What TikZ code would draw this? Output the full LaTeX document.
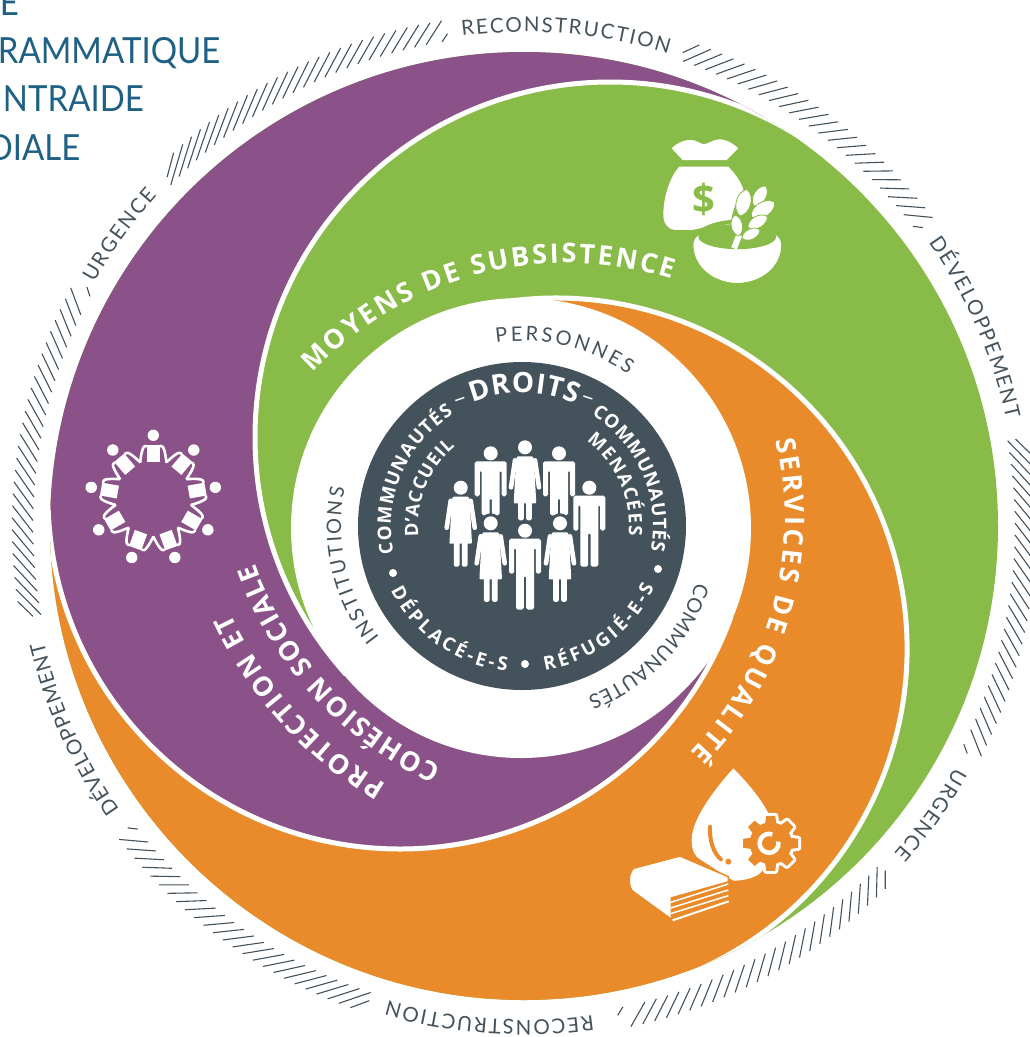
\documentclass[tikz,border=0pt]{standalone}
\usepackage{fontspec}
\setmainfont{Lato}
\newfontfamily\whitefam{Open Sans}
\newfontfamily\headfam[FakeStretch=0.915]{Lato}
\usetikzlibrary{calc,decorations.text}
\definecolor{cpurple}{HTML}{8A5288}
\definecolor{cgreen}{HTML}{88BB48}
\definecolor{corange}{HTML}{EA8B2B}
\definecolor{cink}{HTML}{44525B}
\definecolor{cblue}{HTML}{1F6184}
\newcommand\arctext[7]{\path[decorate,decoration={text along path,text align={fit to path},text={|#6|#7}}] (#1,-#2) ++(#4:#3) arc[start angle=#4,end angle=#5,radius=#3pt];}
\newcommand\ringfont{\fontsize{20.5}{20.5}\selectfont\color{cink}}
\newcommand\innerfont{\fontsize{20}{20}\selectfont\color{cink}}
\newcommand\mainfont{\whitefam\fontsize{27}{27}\selectfont\bfseries\color{white}}
\newcommand\diskfont{\whitefam\fontsize{18.8}{18.8}\selectfont\bfseries\color{white}}
\newcommand\smalldiskfont{\whitefam\fontsize{18.5}{18.5}\selectfont\bfseries\color{white}}
\newcommand\droitsfont{\whitefam\fontsize{28}{28}\selectfont\bfseries\color{white}}
\newcommand\manfig[3]{\begin{scope}[shift={(#1,-#2)},y=-1pt]
\fill[cink] (0,0) circle[radius=10pt];
\fill[white] (0,0) circle[radius=7pt];
\fill[white,rounded corners=1.8pt] (-16,43) -- (-16,8) -- (16,8) -- (16,43) -- (10.9,43) -- (10.9,17) -- (9,17) -- (9,#3) -- (1.2,#3) -- (1.2,45) -- (-1.2,45) -- (-1.2,#3) -- (-9,#3) -- (-9,17) -- (-10.9,17) -- (-10.9,43) -- cycle;
\end{scope}}
\newcommand\womanfig[3]{\begin{scope}[shift={(#1,-#2)},y=-1pt]
\fill[cink] (0,0) circle[radius=10pt];
\fill[white] (0,0) circle[radius=7pt];
\fill[white,rounded corners=1pt] (-8,9) -- (8,9) -- (9,14) -- (11.3,56) -- (-11.3,56) -- (-9,14) -- cycle;
\draw[white,line width=4.6pt,line cap=round] (-10,13) -- (-14,40) (10,13) -- (14,40);
\fill[white,rounded corners=1.5pt] (-6.8,54) rectangle (-1.2,#3) (1.2,54) rectangle (6.8,#3);
\end{scope}}
\newcommand\leaf[4]{\filldraw[fill=white,draw=cgreen,line width=.8pt] (#1,#2) to[bend left=65] (#3,#4) to[bend left=65] (#1,#2);}
\begin{document}
\begin{tikzpicture}[x=1pt,y=1pt]
\useasboundingbox (0,0) rectangle (1030,-1037);
\clip (0,0) rectangle (1030,-1037);
\tikzset{
 tick/.style={cink,line width=1.1pt},
 bluetext/.style={cblue,anchor=base east,inner sep=0pt,font=\headfam\fontsize{36}{36}\selectfont},
 dashtext/.style={white,inner sep=0pt,font=\fontsize{24}{24}\selectfont},
 whiteedge/.style={white,line width=5pt}
}
% heading fragments
\node[bluetext] (headA) at (19,-15.5) {E};
\node[bluetext] (headB) at (220.5,-63) {RAMMATIQUE};
\node[bluetext] (headC) at (144,-111.5) {NTRAIDE};
\node[bluetext] (headD) at (80.5,-160) {DIALE};
% hatch ring
\coordinate (O) at (524,-526);
\foreach \s/\n/\e/\ds/\de in {136/134.62/101/4.2/2.2, 71.1/69.72/39/2.5/2.3, 10/8.62/-25/3.3/2.2, -44/-45.38/-77/2.5/2.2, 251.8/250.42/219.5/3/2.3, 190.4/189.02/153.5/3.3/2.2}{
  \foreach \a in {\s,\n,...,\e}{
    \pgfmathsetmacro\dd{\ds+(\de-\ds)*(\s-\a)/(\s-\e)}
    \draw[tick] ($(O)+(\a:491)$) -- ($(O)+(\a-\dd:512)$);
  }
  \coordinate (pa) at ($(O)+(\s+1.38:491)$);
  \coordinate (qa) at ($(O)+(\s+1.38-\ds:512)$);
  \draw[tick] ($(pa)!.4!(qa)$) -- (qa);
  \coordinate (pb) at ($(O)+(\e-1.38:491)$);
  \coordinate (qb) at ($(O)+(\e-1.38-\de:512)$);
  \draw[tick] (pb) -- ($(pb)!.35!(qb)$);
}
% ring labels
\arctext{524}{526}{494}{97.2}{73}{\ringfont}{RECONSTRUCTION}
\arctext{524}{526}{494}{35}{12.5}{\ringfont}{DÉVELOPPEMENT}
\arctext{524}{526}{494}{-29.3}{-41.5}{\ringfont}{URGENCE}
\arctext{524}{526}{494}{-82}{-106}{\ringfont}{RECONSTRUCTION}
\arctext{524}{526}{494}{215}{193.6}{\ringfont}{DÉVELOPPEMENT}
\arctext{524}{526}{494}{150.5}{138}{\ringfont}{URGENCE}
% spiral
\begin{scope}
\clip (524,-526) circle[radius=474pt];
\fill[cgreen] (524,-526) circle[radius=480pt];
\fill[corange] (556,-649) ++(-70:351) arc[start angle=-70,end angle=97,radius=351pt] -- (400,-650) -- (300,-650) -- (150,-500) -- (-100,-500) -- (-100,-1200) -- (676,-1200) -- cycle;
\fill[cpurple] (610,-437) ++(222:355) arc[start angle=222,end angle=58,radius=355pt] -- (900,100) -- (-100,100) -- (-100,-497) -- (48,-497) arc[start angle=180,end angle=340,radius=352pt] -- cycle;
\draw[whiteedge] (610,-437) ++(222:355) arc[start angle=222,end angle=58,radius=355pt];
\draw[whiteedge] (556,-649) ++(-70:351) arc[start angle=-70,end angle=97,radius=351pt];
\draw[whiteedge] (48,-497) arc[start angle=180,end angle=340,radius=352pt];
\end{scope}
\fill[white] (521,-528) circle[radius=230pt];
\fill[cink] (522,-526) circle[radius=164pt];
% curved titles
\arctext{567}{612}{349}{136.7}{72.5}{\mainfont}{MOYENS DE SUBSISTENCE}
\arctext{449}{518}{336}{13.4}{-44.2}{\mainfont}{SERVICES DE QUALITÉ}
\arctext{588}{444}{396}{239.4}{205.4}{\mainfont}{PROTECTION ET}
\arctext{588}{444}{354}{245.5}{199.7}{\mainfont}{COHÉSION SOCIALE}
% inner ring labels
\arctext{522}{526}{185}{98}{55}{\innerfont}{PERSONNES}
\arctext{522}{526}{183}{-18}{-69}{\innerfont}{COMMUNAUTÉS}
\arctext{522}{526}{181}{218}{168}{\innerfont}{INSTITUTIONS}
% disc labels
\arctext{522}{526}{131}{192}{121.5}{\diskfont}{COMMUNAUTÉS}
\arctext{522}{526}{133}{112}{66}{\droitsfont}{DROITS}
\arctext{522}{526}{131}{58}{-11}{\diskfont}{COMMUNAUTÉS}
\arctext{522}{526}{104}{186}{130}{\smalldiskfont}{D’ACCUEIL}
\arctext{522}{526}{107}{53}{-5}{\smalldiskfont}{MENACÉES}
\arctext{522}{526}{146}{206}{264}{\diskfont}{DÉPLACÉ-E-S}
\arctext{522}{526}{146}{279}{335}{\diskfont}{RÉFUGIÉ-E-S}
\node[dashtext,rotate=19] (dashL) at (461,-403) {–};
\node[dashtext,rotate=-18] (dashR) at (587,-401) {–};
\fill[white] (393,-573) circle[radius=4pt] (525,-664) circle[radius=4pt] (658,-569) circle[radius=4pt];
% people
\manfig{490.7}{453.3}{62}
\womanfig{525}{447.3}{73}
\manfig{559}{453.3}{62}
\womanfig{460.7}{487.7}{79}
\manfig{589.3}{487.7}{79}
\womanfig{490.7}{523.3}{78.5}
\manfig{525}{530.7}{79}
\womanfig{560}{523.3}{78.5}
% money bag and bowl
\begin{scope}[shift={(620,-120)},x=.3333pt,y=-.3333pt]
\fill[white] (155,85) .. controls (175,65) and (205,55) .. (225,62) .. controls (240,68) and (250,75) .. (255,72) .. controls (262,72) and (275,60) .. (300,58) .. controls (325,60) and (345,75) .. (355,85) -- (320,120) -- (188,120) -- cycle;
\fill[white] (178,140) -- (325,140) .. controls (350,165) and (375,200) .. (375,240) -- (375,300) -- (215,330) -- (165,330) .. controls (145,330) and (130,310) .. (130,285) .. controls (130,230) and (150,170) .. (178,140) -- cycle;
\node[cgreen,inner sep=0pt,font=\whitefam\fontsize{40}{40}\selectfont\bfseries] (dollar) at (252,238) {\$};
\filldraw[fill=white,draw=cgreen,line width=4pt] (214,372) .. controls (214,450) and (285,495) .. (352,495) .. controls (420,495) and (490,450) .. (490,372) .. controls (490,335) and (420,305) .. (352,305) .. controls (285,305) and (214,335) .. (214,372) -- cycle;
\fill[cgreen] (352,350) ellipse[x radius=39pt,y radius=12.5pt];
\fill[cgreen] (338,350) .. controls (322,300) and (350,225) .. (385,200) -- (470,190) -- (475,250) -- (445,318) -- (385,355) -- cycle;
\draw[white,line width=6pt] (342,385) -- (358,345);
\leaf{381}{208}{360}{288}
\leaf{437}{198}{402}{258}
\leaf{464}{247}{394}{290}
\leaf{442}{290}{384}{322}
\leaf{420}{330}{366}{355}
\leaf{345}{285}{356}{348}
\end{scope}
% people circle
\begin{scope}[shift={(153.3,-498.3)}]
\foreach \a in {0,40,...,320}{
\begin{scope}[rotate=\a]
\fill[white] (0,63) circle[radius=5.7pt];
\fill[white] (-6.5,36) rectangle (6.5,53);
\draw[white,line width=2.6pt,line join=round] (-6.5,52.5) .. controls (-11,54) and (-12,44) .. (-13.2,35.7);
\draw[white,line width=2.6pt,line join=round] (6.5,52.5) .. controls (11,54) and (12,44) .. (13.2,35.7);
\end{scope}}
\end{scope}
% drop, book
\begin{scope}[shift={(620,-760)},x=.3333pt,y=-.3333pt]
\fill[white] (340,25) .. controls (300,70) and (215,170) .. (215,240) .. controls (215,270) and (225,290) .. (240,298) -- (340,362) .. controls (370,362) and (400,355) .. (420,340) -- (500,250) -- (445,160) .. controls (420,110) and (370,55) .. (340,25) -- cycle;
\draw[corange,line width=4pt,line cap=round] (270,200) .. controls (268,240) and (280,280) .. (303,298);
\fill[corange] (325,305) circle[radius=3pt];
\end{scope}
\begin{scope}[shift={(770.7,-843.3)}]
\foreach \k in {0,45,...,315}{
\filldraw[fill=white,draw=white,line width=6pt,line join=round,rotate=\k] (-6,17) -- (6,17) -- (4.5,27.5) -- (-4.5,27.5) -- cycle;}
\draw[white,line width=6pt] (0,0) circle[radius=21pt];
\fill[corange] (0,0) circle[radius=21pt];
\foreach \k in {0,45,...,315}{
\fill[corange,rotate=\k] (-6,17) -- (6,17) -- (4.5,27.5) -- (-4.5,27.5) -- cycle;}
\draw[white,line width=4.5pt] (-1.6,0) ++(70:9.5) arc[start angle=70,end angle=370,radius=9.5pt];
\end{scope}
\begin{scope}[shift={(620,-760)},x=.3333pt,y=-.3333pt]
\filldraw[fill=white,draw=corange,line width=1.5pt] (40,325) -- (180,288) -- (325,350) -- (325,425) -- (160,482) -- (40,395) .. controls (25,385) and (22,345) .. (40,325) -- cycle;
\fill[corange] (152,412) -- (330,362) -- (330,425) -- (152,480) -- cycle;
\draw[white,line width=1.5pt] (152,427) -- (325,372) (152,444) -- (325,390) (152,461) -- (325,407);
\draw[white,line width=2pt] (158,481) -- (326,424);
\end{scope}
\end{tikzpicture}
\end{document}
